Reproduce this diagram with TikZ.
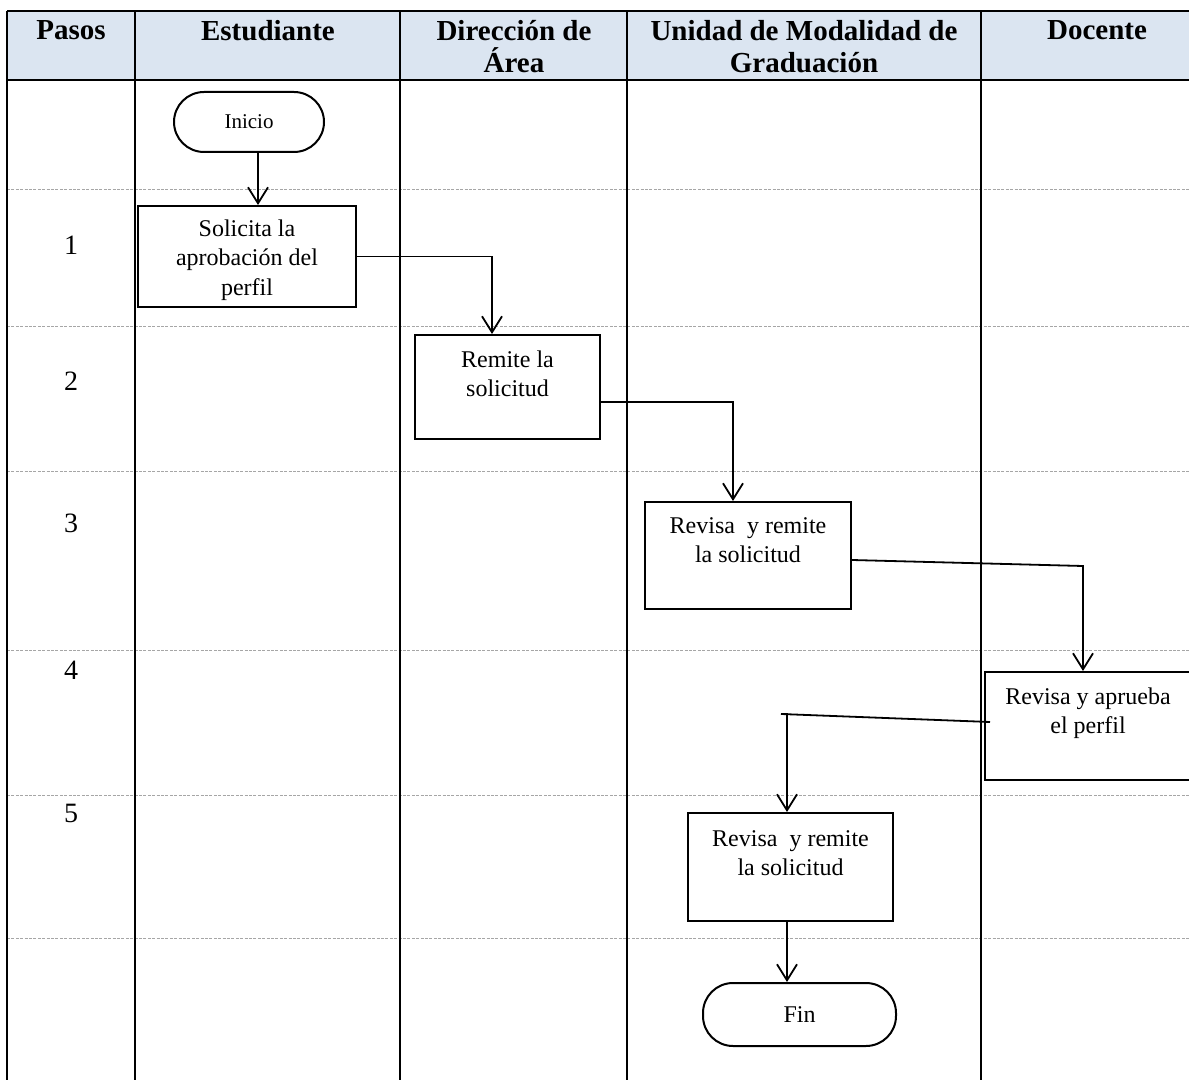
\documentclass[tikz,border=0pt]{standalone}
\usepackage{fontspec}
\setmainfont{Liberation Serif}
\usetikzlibrary{arrows.meta,calc}
\definecolor{headblue}{HTML}{DBE5F1}
\definecolor{rulegray}{HTML}{A6A6A6}

\begin{document}
\begin{tikzpicture}[x=0.5pt,y=-0.5pt,
  grid/.style={line width=1.3pt},
  rowsep/.style={rulegray, line width=0.5pt, dash pattern=on 1.5pt off 0.7pt},
  hdr/.style={font=\fontsize{14.5}{16}\selectfont\bfseries, align=center, anchor=north, inner sep=0pt},
  stepnum/.style={font=\fontsize{14}{16}\selectfont, inner sep=0pt},
  stepbox/.style={draw, line width=1pt, rectangle, inner sep=0pt},
  boxtext/.style={font=\fontsize{12}{14.8}\selectfont, align=center, anchor=north, inner sep=0pt},
  terminal/.style={draw, line width=1pt, rectangle, rounded corners=15pt, inner sep=0pt},
  conn/.style={line width=0.8pt},
  arr/.style={line width=0.9pt, -{Straight Barb[length=8pt,width=10pt]}}
]
\useasboundingbox (0,0) rectangle (1189,1080);
\clip (0,0) rectangle (1189,1080);

% header band
\fill[headblue] (7,11) rectangle (1213,80);

% row separators
\foreach \yy in {190,327,472,650,795,938}
  \draw[rowsep] (7,\yy) -- (1213,\yy);

% table rules
\draw[grid] (7,11) -- (1213,11);
\draw[grid] (7,80) -- (1213,80);
\foreach \xx in {7,135,400,627,981,1213}
  \draw[grid] (\xx,11) -- (\xx,1090);

% column titles
\node[hdr] (hpasos) at (71,20) {Pasos};
\node[hdr] (hest) at (268,20) {Estudiante};
\node[hdr] (hdir) at (514,20) {Dirección de\\Área};
\node[hdr] (hunidad) at (804,20) {Unidad de Modalidad de\\Graduación};
\node[hdr] (hdoc) at (1097,20) {Docente};

% step numbers
\node[stepnum] (n1) at (71,245) {1};
\node[stepnum] (n2) at (71,381) {2};
\node[stepnum] (n3) at (71,523) {3};
\node[stepnum] (n4) at (71,670) {4};
\node[stepnum] (n5) at (71,813) {5};

% terminals
\node[terminal, minimum width=75pt, minimum height=30pt,
      font=\fontsize{10.5}{12}\selectfont] (ini) at (249,122) {Inicio};
\node[terminal, minimum width=96.5pt, minimum height=31.5pt,
      font=\fontsize{12}{14}\selectfont] (fin) at (799.5,1014.5) {Fin};

% process boxes
\node[stepbox, minimum width=109pt, minimum height=50.5pt] (s1) at (247,256.5) {};
\node[boxtext] (s1t) at (247,219) {Solicita la\\aprobación del\\perfil};

\node[stepbox, minimum width=92.5pt, minimum height=52pt] (s2) at (507.5,387) {};
\node[boxtext] (s2t) at (507.5,350) {Remite la\\solicitud};

\node[stepbox, minimum width=103pt, minimum height=53.5pt] (s3) at (748,555.5) {};
\node[boxtext] (s3t) at (748,517) {Revisa\ \ y remite\\la solicitud};

\node[stepbox, minimum width=103pt, minimum height=54pt] (s4) at (1088,726) {};
\node[boxtext] (s4t) at (1088,687) {Revisa y aprueba\\el perfil};

\node[stepbox, minimum width=102.5pt, minimum height=54pt] (s5) at (790.5,867) {};
\node[boxtext] (s5t) at (790.5,830) {Revisa\ \ y remite\\la solicitud};

% bend points
\coordinate (c3) at (1083,566);
\coordinate (c4) at (787,714);

% connectors
\draw[arr] ($(ini.south)+(9,0)$) -- ($(s1.north)+(11,0)$);
\draw[arr] (s1.east) -| ($(s2.north)+(-15.5,0)$);
\draw[arr] ($(s2.east)+(0,15)$) -| ($(s3.north)+(-15,0)$);
\draw[arr] ($(s3.east)+(0,4.5)$) -- (c3) -- ($(s4.north)+(-5,0)$);
\draw[arr] ($(s4.west)+(6,-4)$) -- ($(c4)+(-6,0)$) -- (c4) -- ($(s5.north)+(-3.5,0)$);
\draw[arr] ($(s5.south)+(-3.5,0)$) -- ($(fin.north)+(-12.5,0)$);
\end{tikzpicture}
\end{document}
